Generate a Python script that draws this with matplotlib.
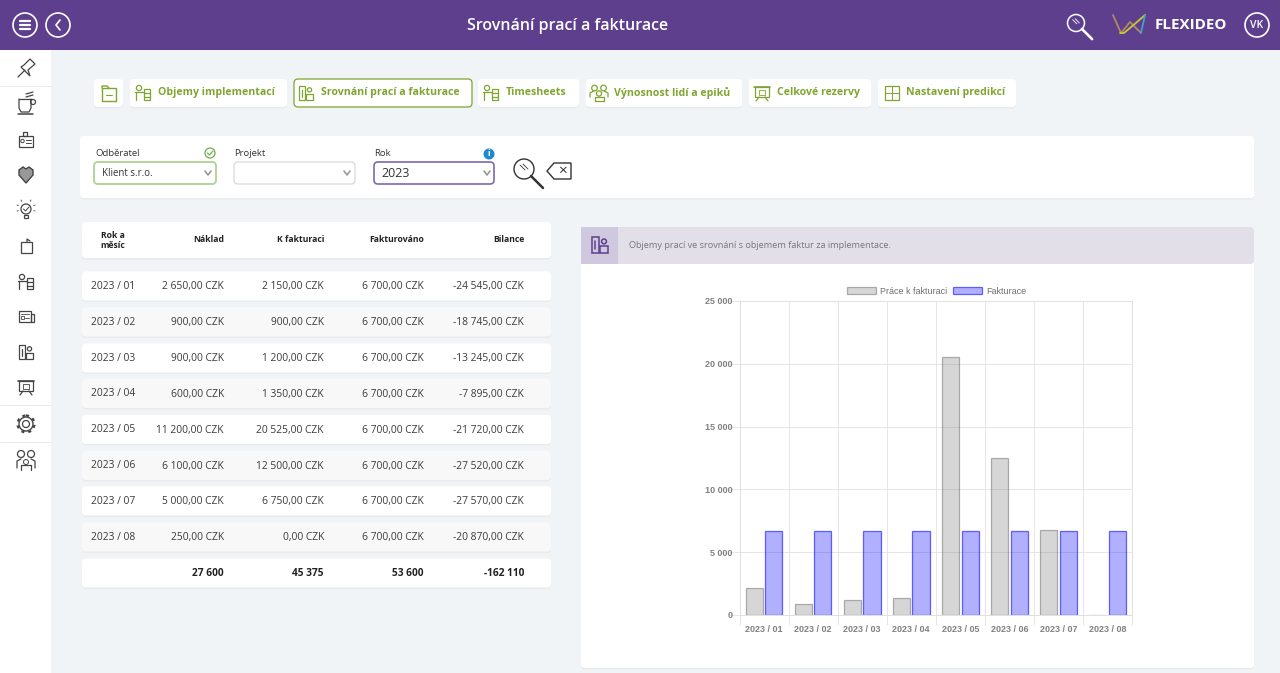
import matplotlib
matplotlib.use('Agg')
import matplotlib.pyplot as plt
from matplotlib.patches import FancyBboxPatch, Rectangle, Circle, Polygon

UI_FONT = 'Open Sans'
PURPLE = '#5E3F8E'
GREEN = '#7FA52F'
DARK = '#444444'

months = ['2023 / 01', '2023 / 02', '2023 / 03', '2023 / 04',
          '2023 / 05', '2023 / 06', '2023 / 07', '2023 / 08']
naklad = ['2 650,00 CZK', '900,00 CZK', '900,00 CZK', '600,00 CZK',
          '11 200,00 CZK', '6 100,00 CZK', '5 000,00 CZK', '250,00 CZK']
k_fakturaci = ['2 150,00 CZK', '900,00 CZK', '1 200,00 CZK', '1 350,00 CZK',
               '20 525,00 CZK', '12 500,00 CZK', '6 750,00 CZK', '0,00 CZK']
fakturovano = ['6 700,00 CZK'] * 8
bilance = ['-24 545,00 CZK', '-18 745,00 CZK', '-13 245,00 CZK', '-7 895,00 CZK',
           '-21 720,00 CZK', '-27 520,00 CZK', '-27 570,00 CZK', '-20 870,00 CZK']
row_y = [286, 322, 358, 393.5, 429.5, 465.5, 501, 537]

# chart values
prace = [2150, 900, 1200, 1350, 20525, 12500, 6750, 0]
faktury = [6700] * 8

fig = plt.figure(figsize=(12.8, 6.73), dpi=100, facecolor='#F0F4F7')

# page furniture is laid out in pixels
bg = fig.add_axes([0, 0, 1, 1])
bg.set_xlim(0, 1280)
bg.set_ylim(673, 0)
bg.axis('off')


def box(x0, y0, x1, y1, fc='white', ec='none', lw=0, r=4, z=1, shadow=False):
    if shadow:
        s = FancyBboxPatch((x0 + r, y0 + r + 1.5), x1 - x0 - 2 * r, y1 - y0 - 2 * r,
                           boxstyle=f'round,pad={r},rounding_size={r}',
                           fc='#E7EBEE', ec='none', zorder=z)
        bg.add_patch(s)
    p = FancyBboxPatch((x0 + r, y0 + r), x1 - x0 - 2 * r, y1 - y0 - 2 * r,
                       boxstyle=f'round,pad={r},rounding_size={r}',
                       fc=fc, ec=ec, lw=lw, zorder=z)
    bg.add_patch(p)


def txt(x, y, s, size=7.5, color='#333333', ha='left', weight='normal', font=UI_FONT):
    # Open Sans sits a little high with va=center
    bg.text(x, y + 1, s, fontsize=size, color=color, ha=ha, va='center',
            fontweight=weight, family=font, zorder=5)


def line(xs, ys, color=DARK, lw=0.9):
    bg.plot(xs, ys, color=color, lw=lw, zorder=5, solid_capstyle='round')


def rect(x, y, w, h, color=DARK, lw=0.9):
    bg.add_patch(Rectangle((x, y), w, h, fc='none', ec=color, lw=lw, zorder=5))


def circ(x, y, r, color=DARK, lw=0.9):
    bg.add_patch(Circle((x, y), r, fc='none', ec=color, lw=lw, zorder=5))


def magnifier(x, y, r, color, lw=1.1):
    circ(x, y, r, color, lw)
    line([x + r * 0.7, x + r * 1.9], [y + r * 0.7, y + r * 1.9], color, lw + 0.8)
    line([x - r * 0.4, x + r * 0.1], [y - r * 0.4, y + r * 0.1], color, 0.6)
    line([x - r * 0.1, x + r * 0.4], [y - r * 0.5, y], color, 0.6)


def desk_icon(x, y, color=DARK, lw=0.9):
    circ(x - 4, y - 5, 2.6, color, lw)
    line([x - 8, x + 1], [y - 1, y - 1], color, lw)
    line([x - 7, x - 7], [y - 1, y + 7], color, lw)
    rect(x + 1, y - 4, 6, 11, color, lw)
    line([x + 1, x + 7], [y, y], color, lw)
    line([x + 1, x + 7], [y + 3.5, y + 3.5], color, lw)


def doc_icon(x, y, color=DARK, lw=0.9, s=7):
    rect(x - s, y - s, s * 0.9, s * 2, color, lw)
    line([x - s * 0.6, x - s * 0.6], [y - s * 0.5, y + s * 0.5], color, lw)
    circ(x + s * 0.5, y - s * 0.45, s * 0.3, color, lw)
    rect(x, y + s * 0.1, s, s * 0.9, color, lw)


def board_icon(x, y, color=DARK, lw=0.9):
    rect(x - 7, y - 6, 14, 10, color, lw)
    line([x - 8, x + 8], [y - 6.5, y - 6.5], color, lw + 0.3)
    rect(x - 3, y - 3, 6, 5, color, 0.6)
    line([x - 3, x - 6], [y + 4, y + 8], color, lw)
    line([x + 3, x + 6], [y + 4, y + 8], color, lw)


def people_icon(x, y, color=DARK, lw=0.9):
    circ(x - 4.5, y - 5, 2.8, color, lw)
    circ(x + 4.5, y - 5, 2.8, color, lw)
    line([x - 9, x - 9, x - 5], [y + 4, y, y - 2], color, lw)
    line([x + 9, x + 9, x + 5], [y + 4, y, y - 2], color, lw)
    circ(x, y + 0.5, 2.6, color, lw)
    line([x - 4.5, x - 4.5, x + 4.5, x + 4.5], [y + 8, y + 4, y + 4, y + 8], color, lw)
    line([x - 4.5, x + 4.5], [y + 8, y + 8], color, lw)


# top bar
bg.add_patch(Rectangle((0, 0), 1280, 50, fc=PURPLE, ec='none', zorder=2))
for cx in [25, 58]:
    circ(cx, 25, 12, 'white', 1.2)
for yy in [21, 25, 29]:
    line([20, 30], [yy, yy], 'white', 1.6)
line([60, 56, 60], [20, 25, 30], 'white', 1.2)
txt(568, 25, 'Srovnání prací a fakturace', size=11.5, color='white', ha='center', weight='semibold')
magnifier(1076, 23, 8.5, 'white')
line([1113, 1121, 1130, 1141], [15, 33, 22, 33], '#B08A60', 1.3)
line([1120, 1124, 1137, 1145], [33, 33, 22, 15], '#C8C832', 1.3)
line([1141, 1145], [33, 15], '#3FA0C8', 1.3)
txt(1155, 24, 'FLEXIDEO', size=10.9, color='white', weight='bold')
circ(1257, 25, 12, 'white', 1.2)
txt(1257, 25, 'VK', size=7.5, color='white', ha='center', weight='semibold')

# left sidebar
bg.add_patch(Rectangle((0, 50), 51, 623, fc='white', ec='none', zorder=1))
for yy in [86, 405, 442]:
    line([0, 51], [yy, yy], '#EAEAEA', 0.7)
# pin
line([18, 25], [77, 70])
bg.add_patch(Polygon([[21, 67], [30, 76], [28, 70], [35, 64], [30, 59], [24, 65]], closed=True,
                     fc='none', ec=DARK, lw=0.9, zorder=5))
# cup
line([19, 19, 21, 29, 31, 31], [99, 108, 112, 112, 108, 99])
line([19, 31], [99, 99])
circ(33, 102, 2.5)
line([18, 33], [114, 114], DARK, 1.1)
line([26, 33], [97, 95])
line([26, 33], [94, 92])
# badge
rect(19, 136, 14, 11)
rect(23, 132, 4, 4)
line([26, 31], [140, 140], DARK, 0.7)
line([26, 31], [143, 143], DARK, 0.7)
circ(22.5, 141, 1.7, DARK, 0.7)
# handshake
bg.add_patch(Polygon([[19, 170], [23, 167], [26, 169], [29, 167], [33, 170], [33, 175], [26, 183], [19, 175]],
                     closed=True, fc='#999999', ec=DARK, lw=1.0, zorder=5))
# bulb
circ(26, 209, 5)
rect(24, 215, 4, 3)
for dx, dy in [(-9, -4), (9, -4), (-9, 2), (9, 2), (-5, -9), (5, -9)]:
    line([26 + dx * 0.85, 26 + dx], [209 + dy * 0.85, 209 + dy], DARK, 0.6)
line([23.5, 25.5, 29], [209, 211, 207], DARK, 0.7)
# note
rect(21, 242, 11, 11)
line([27, 27, 30], [242, 239, 241])
desk_icon(26, 282)
# card
rect(19, 311, 12, 11)
rect(31, 314, 2.5, 8)
line([21, 29], [314, 314], DARK, 0.6)
rect(21, 316, 3, 3, DARK, 0.6)
line([25, 29], [318, 318], DARK, 0.6)
doc_icon(26, 352)
board_icon(26, 387)
# gear
circ(26, 424, 3.5)
circ(26, 424, 7, DARK, 1.0)
bg.add_patch(Circle((26, 424), 8.5, fc='none', ec=DARK, lw=1.6, ls=(0, (1.4, 1.8)), zorder=5))
# people
circ(21, 454, 3.5)
circ(31, 454, 3.5)
circ(26, 462, 2.5, DARK, 0.7)
line([17, 17, 21], [468, 461, 459])
line([35, 35, 31], [468, 461, 459])
line([21, 21, 31, 31], [470, 465, 465, 470])

# tab buttons
tabs = [(130, 287, 'Objemy implementací', 158, desk_icon),
        (294, 472, 'Srovnání prací a fakturace', 321, doc_icon),
        (478, 579, 'Timesheets', 506, desk_icon),
        (586, 742, 'Výnosnost lidí a epiků', 614, people_icon),
        (749, 871, 'Celkové rezervy', 777, board_icon),
        (878, 1016, 'Nastavení predikcí', 906, None)]
box(94, 79, 123, 107, shadow=True)
rect(102, 88, 14, 13, GREEN, 1.0)
line([102, 102, 107, 109], [88, 86, 86, 88], GREEN, 1.0)
line([106, 112], [95, 95], GREEN, 0.8)
for x0, x1, label, tx, icon in tabs:
    selected = label.startswith('Srovn')
    box(x0, 79, x1, 107, ec=GREEN if selected else 'none', lw=0.9 if selected else 0, shadow=not selected)
    if icon is not None:
        icon(tx - 15, 93, color=GREEN, lw=0.9)
    else:
        rect(tx - 21, 86, 14, 14, GREEN, 0.9)
        line([tx - 21, tx - 7], [93, 93], GREEN, 0.7)
        line([tx - 14, tx - 14], [86, 100], GREEN, 0.7)
    txt(tx, 91.5, label, size=7.6, color=GREEN, weight='bold')

# filter card
box(80, 136, 1254, 198, r=3, shadow=True)
txt(95, 153, 'Odběratel', size=6.8)
txt(234, 153, 'Projekt', size=6.8)
txt(374, 153, 'Rok', size=6.8)
box(94, 162, 216, 184, ec='#B5D39A', lw=1.4, r=4, z=2)
box(234, 162, 355, 184, ec='#D5D5D5', lw=0.8, r=4, z=2)
box(374, 162, 494, 184, ec='#7E68B0', lw=1.2, r=4, z=2)
txt(102, 172.5, 'Klient s.r.o.', size=6.9)
txt(381, 172.5, '2023', size=9)
for xc in [208, 347, 487]:
    line([xc - 3, xc, xc + 3], [171, 175, 171], '#999999', 1.2)
circ(210, 153, 5, '#6FB04A', 0.9)
line([207.5, 209.5, 213], [153, 155, 151], '#6FB04A', 0.9)
bg.add_patch(Circle((489, 154), 5.5, fc='#1E88D0', ec='none', zorder=5))
txt(489, 153, 'i', size=6.5, color='white', ha='center', weight='bold')
magnifier(524, 169, 10, '#333333', lw=1.0)
bg.add_patch(Polygon([[547, 171], [554, 163], [571, 163], [571, 179], [554, 179]],
                     closed=True, fc='none', ec='#333333', lw=1.0, zorder=5))
txt(562, 170, '×', size=11, color='#333333', ha='center')

# table
box(82, 222, 551, 258, r=4, shadow=True)
txt(113, 234, 'Rok a', size=6.2, color='#222222', ha='center', weight='bold')
txt(113, 244, 'měsíc', size=6.2, color='#222222', ha='center', weight='bold')
for xr, head in zip([224, 324, 424, 524], ['Náklad', 'K fakturaci', 'Fakturováno', 'Bilance']):
    txt(xr, 239, head, size=6.2, color='#222222', ha='right', weight='bold')
for i, yy in enumerate(row_y):
    box(82, yy - 14.5, 551, yy + 14.5, fc='white' if i % 2 == 0 else '#F8F8F8', r=4, shadow=True)
    txt(113, yy - 0.5, months[i], size=7.4, color='#3A3A3A', ha='center')
    txt(224, yy - 0.5, naklad[i], size=7.4, color='#3A3A3A', ha='right')
    txt(324, yy - 0.5, k_fakturaci[i], size=7.4, color='#3A3A3A', ha='right')
    txt(424, yy - 0.5, fakturovano[i], size=7.4, color='#3A3A3A', ha='right')
    txt(524, yy - 0.5, bilance[i], size=7.4, color='#3A3A3A', ha='right')
box(82, 558.5, 551, 587.5, r=4, shadow=True)
for xr, total in zip([224, 324, 424, 524], ['27 600', '45 375', '53 600', '-162 110']):
    txt(xr, 572.5, total, size=7.3, color='#222222', ha='right', weight='bold')

# chart card
box(581, 227, 1254, 668, r=4, shadow=True)
box(581, 227, 1254, 264, fc='#E2DFE9', r=4, z=2)
bg.add_patch(Rectangle((581, 227), 37, 37, fc='#CFC8DF', ec='none', zorder=3))
doc_icon(600, 245, color='#5E3F8E', lw=1.1, s=8)
txt(629, 244.5, 'Objemy prací ve srovnání s objemem faktur za implementace.', size=6.6, color='#777777')

# the bar chart itself
ax = fig.add_axes([739.5 / 1280, 1 - 615 / 673, (1132 - 739.5) / 1280, (615 - 301) / 673])
ax.patch.set_alpha(0)
pos = list(range(len(months)))
b1 = ax.bar([p - 0.2 for p in pos], prace, width=0.35, color=(0.5, 0.5, 0.5, 0.32),
            edgecolor=(0.45, 0.45, 0.45, 0.55), linewidth=0.9, label='Práce k fakturaci', zorder=3)
b2 = ax.bar([p + 0.2 for p in pos], faktury, width=0.35, color=(0, 0, 1, 0.31),
            edgecolor=(0.1, 0.1, 1, 0.65), linewidth=0.9, label='Fakturace', zorder=3)
ax.set_xlim(-0.5, 7.5)
ax.set_ylim(0, 25000)
ax.set_yticks(range(0, 25001, 5000))
ax.set_yticklabels([f'{v:,}'.replace(',', ' ') for v in range(0, 25001, 5000)],
                   family='Liberation Sans', fontsize=6.5, color='#808080', fontweight='bold')
ax.set_xticks(pos)
ax.set_xticklabels(months, family='Liberation Sans', fontsize=6.5, color='#808080', fontweight='bold')
ax.set_xticks([p + 0.5 for p in range(-1, 8)], minor=True)
ax.tick_params(axis='x', which='major', length=0, pad=7)
ax.tick_params(axis='x', which='minor', length=7, width=0.7, color='#E6E6E6')
ax.tick_params(axis='y', length=7, width=0.7, color='#E6E6E6', pad=-2)
ax.grid(True, axis='y', color='#E6E6E6', lw=0.7, zorder=0)
ax.grid(True, axis='x', which='minor', color='#E6E6E6', lw=0.7, zorder=0)
for s in ax.spines.values():
    s.set_color('#E0E0E0')
    s.set_linewidth(0.7)
leg = ax.legend(handles=[b1, b2], loc='lower center', bbox_to_anchor=(0.502, 1.003), ncol=2, frameon=False,
                prop={'family': 'Liberation Sans', 'size': 6.5}, labelcolor='#707070',
                handlelength=3.2, handleheight=0.95, handletextpad=0.45, columnspacing=0.7,
                borderpad=0.4, borderaxespad=0.1)

fig.savefig('out.png', dpi=100, facecolor=fig.get_facecolor())
